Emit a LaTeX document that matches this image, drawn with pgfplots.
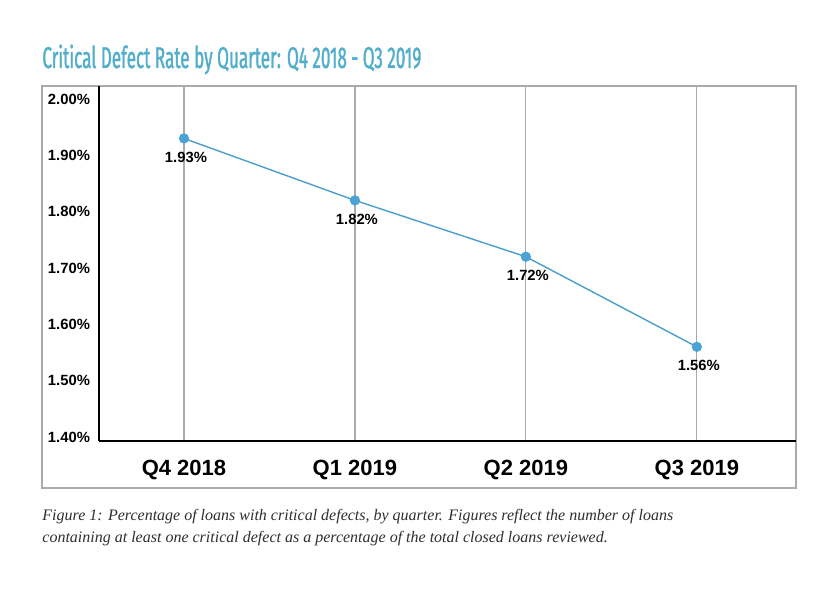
\documentclass[border=0pt]{standalone}
\usepackage{pgfplots}
\pgfplotsset{compat=1.18}
\usepackage{fontspec}
\setmainfont{Liberation Sans}
\newfontfamily\titlefont[FakeStretch=0.57, FakeBold=1.2]{Fira Sans}
\newfontfamily\capfont{Liberation Serif}
\definecolor{titleblue}{HTML}{52AECB}
\definecolor{lineblue}{HTML}{4A9FC8}
\definecolor{dotblue}{HTML}{4AA3D4}
\definecolor{framegray}{HTML}{AAAAAA}
\begin{document}
\begin{tikzpicture}
\useasboundingbox (0pt,0pt) rectangle (415pt,296pt);
% outer frame
\draw[framegray, line width=0.6pt] (21pt,52pt) rectangle (398pt,253pt);
% title
\node[anchor=base west, inner sep=0pt, text=titleblue, font=\titlefont\fontsize{15}{16}\selectfont] at (21pt,262pt) {Critical Defect Rate by Quarter: Q4 2018 - Q3 2019};
% caption
\node[anchor=base west, inner sep=0pt, text=black!82, font=\capfont\itshape\fontsize{8}{11}\selectfont] at (21pt,35.5pt) {Figure 1: Percentage of loans with critical defects, by quarter. Figures reflect the number of loans};
\node[anchor=base west, inner sep=0pt, text=black!82, font=\capfont\itshape\fontsize{8}{11}\selectfont] at (21pt,24.5pt) {containing at least one critical defect as a percentage of the total closed loans reviewed.};

\begin{axis}[
  at={(49.5pt,75.5pt)}, anchor=south west,
  scale only axis, width=348.5pt, height=177.5pt,
  xmin=-0.497, xmax=3.58,
  ymin=1.3929, ymax=2.0231,
  axis lines*=left,
  axis line style={black, line width=1.4pt},
  xtick={0,1,2,3},
  xticklabels={Q4 2018, Q1 2019, Q2 2019, Q3 2019},
  ytick={1.4,1.5,1.6,1.7,1.8,1.9,2.0},
  yticklabel={\pgfmathprintnumber[fixed,fixed zerofill,precision=2]{\tick}\%},
  /pgf/number format/assume math mode=true,
  major tick length=0pt,
  xmajorgrids,
  major grid style={framegray, line width=0.6pt},
  xticklabel style={font=\bfseries\fontsize{11}{12}\selectfont, yshift=-6pt},
  yticklabel style={font=\bfseries\fontsize{7.4}{8}\selectfont, xshift=-1pt},
  clip=false,
]
\addplot[lineblue, line width=0.7pt, mark=*, mark size=2.2pt,
  mark options={fill=dotblue, draw=dotblue},
  nodes near coords={\pgfmathprintnumber[fixed,fixed zerofill,precision=2]{\pgfplotspointmeta}\%},
  every node near coord/.append style={anchor=north, yshift=-3pt, xshift=1pt, font=\bfseries\fontsize{7.4}{8}\selectfont, text=black}
] coordinates {
  (0,1.93)
  (1,1.82)
  (2,1.72)
  (3,1.56)
};
\end{axis}
\end{tikzpicture}
\end{document}
